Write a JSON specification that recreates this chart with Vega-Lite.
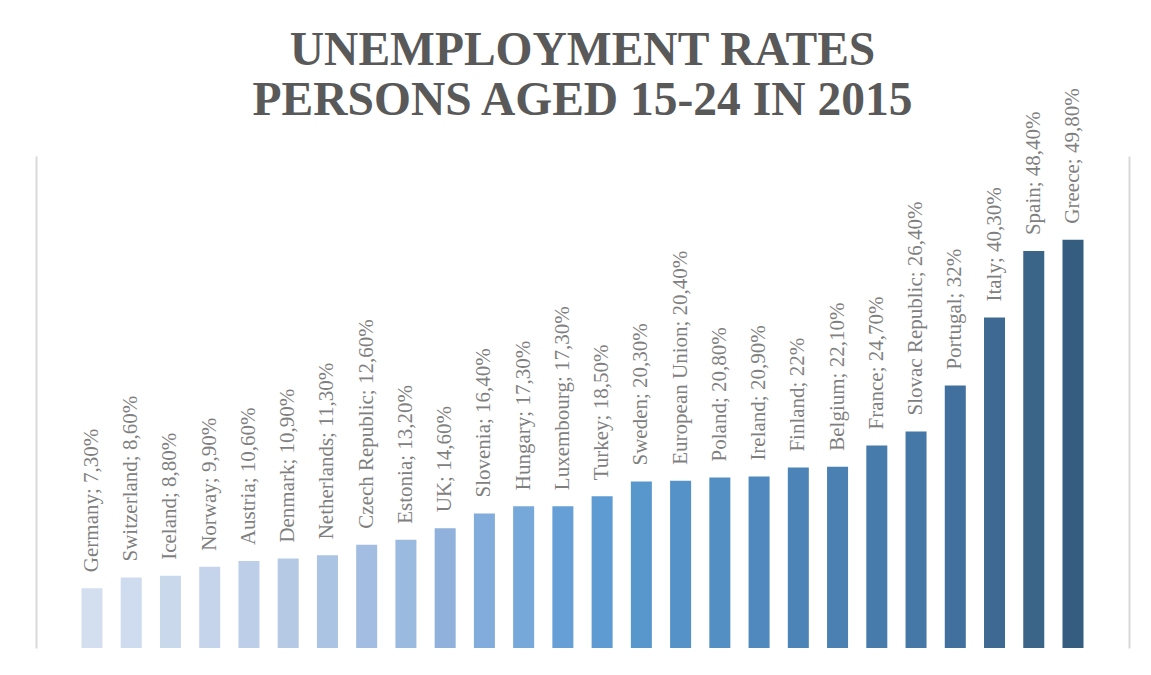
{
  "$schema": "https://vega.github.io/schema/vega-lite/v6.json",
  "autosize": {"type": "none"},
  "width": 1093,
  "height": 492,
  "padding": {"left": 36, "top": 156, "right": 22, "bottom": 27},
  "background": "white",
  "title": {
    "text": ["UNEMPLOYMENT RATES", "PERSONS AGED 15-24 IN 2015"],
    "font": "Liberation Serif",
    "fontSize": 47.5,
    "fontWeight": "bold",
    "color": "#595959",
    "lineHeight": 50,
    "anchor": "middle",
    "offset": -36
  },
  "data": {
    "values": [
      {"country": "Germany", "rate": 7.3, "label": "Germany; 7,30%"},
      {"country": "Switzerland", "rate": 8.6, "label": "Switzerland; 8,60%"},
      {"country": "Iceland", "rate": 8.8, "label": "Iceland; 8,80%"},
      {"country": "Norway", "rate": 9.9, "label": "Norway; 9,90%"},
      {"country": "Austria", "rate": 10.6, "label": "Austria; 10,60%"},
      {"country": "Denmark", "rate": 10.9, "label": "Denmark; 10,90%"},
      {"country": "Netherlands", "rate": 11.3, "label": "Netherlands; 11,30%"},
      {"country": "Czech Republic", "rate": 12.6, "label": "Czech Republic; 12,60%"},
      {"country": "Estonia", "rate": 13.2, "label": "Estonia; 13,20%"},
      {"country": "UK", "rate": 14.6, "label": "UK; 14,60%"},
      {"country": "Slovenia", "rate": 16.4, "label": "Slovenia; 16,40%"},
      {"country": "Hungary", "rate": 17.3, "label": "Hungary; 17,30%"},
      {"country": "Luxembourg", "rate": 17.3, "label": "Luxembourg; 17,30%"},
      {"country": "Turkey", "rate": 18.5, "label": "Turkey; 18,50%"},
      {"country": "Sweden", "rate": 20.3, "label": "Sweden; 20,30%"},
      {"country": "European Union", "rate": 20.4, "label": "European Union; 20,40%"},
      {"country": "Poland", "rate": 20.8, "label": "Poland; 20,80%"},
      {"country": "Ireland", "rate": 20.9, "label": "Ireland; 20,90%"},
      {"country": "Finland", "rate": 22, "label": "Finland; 22%"},
      {"country": "Belgium", "rate": 22.1, "label": "Belgium; 22,10%"},
      {"country": "France", "rate": 24.7, "label": "France; 24,70%"},
      {"country": "Slovac Republic", "rate": 26.4, "label": "Slovac Republic; 26,40%"},
      {"country": "Portugal", "rate": 32, "label": "Portugal; 32%"},
      {"country": "Italy", "rate": 40.3, "label": "Italy; 40,30%"},
      {"country": "Spain", "rate": 48.4, "label": "Spain; 48,40%"},
      {"country": "Greece", "rate": 49.8, "label": "Greece; 49,80%"}
    ]
  },
  "encoding": {
    "x": {
      "field": "country",
      "type": "nominal",
      "sort": null,
      "scale": {"paddingInner": 0.146, "paddingOuter": 1, "round": false},
      "axis": null
    },
    "y": {
      "field": "rate",
      "type": "quantitative",
      "scale": {"domain": [0, 60], "nice": false, "zero": true}
    }
  },
  "layer": [
    {
      "mark": {"type": "bar", "width": {"band": 0.627}},
      "encoding": {
        "y": {
          "field": "rate",
          "type": "quantitative",
          "scale": {"domain": [0, 60], "nice": false},
          "axis": {"orient": "left", "title": null, "labels": false, "ticks": false, "grid": false, "domainColor": "#d9d9d9", "domainWidth": 2}
        },
        "color": {
          "field": "country",
          "type": "nominal",
          "sort": null,
          "legend": null,
          "scale": {
            "domain": ["Germany", "Switzerland", "Iceland", "Norway", "Austria", "Denmark", "Netherlands", "Czech Republic", "Estonia", "UK", "Slovenia", "Hungary", "Luxembourg", "Turkey", "Sweden", "European Union", "Poland", "Ireland", "Finland", "Belgium", "France", "Slovac Republic", "Portugal", "Italy", "Spain", "Greece"],
            "range": ["#d3deef", "#cfdbee", "#cad8ec", "#c5d4ea", "#bdcfe8", "#b5c9e5", "#acc4e3", "#a3bde2", "#9abae0", "#8fb1dc", "#82acdb", "#76a8da", "#669fd6", "#5e9bd3", "#5897cc", "#5592c8", "#538fc3", "#5089bd", "#4d84b7", "#4a80b2", "#477bac", "#4577a7", "#42709e", "#3e6992", "#3a6589", "#355d80"]
          }
        }
      }
    },
    {
      "mark": {
        "type": "text",
        "angle": -90,
        "align": "left",
        "baseline": "middle",
        "dx": 16,
        "font": "Liberation Serif",
        "fontSize": 21,
        "color": "#7f7f7f"
      },
      "encoding": {
        "y": {
          "field": "rate",
          "type": "quantitative",
          "scale": {"domain": [0, 60], "nice": false},
          "axis": {"orient": "right", "title": null, "labels": false, "ticks": false, "grid": false, "domainColor": "#d9d9d9", "domainWidth": 2}
        },
        "text": {"field": "label", "type": "nominal"}
      }
    }
  ],
  "resolve": {"axis": {"y": "independent"}},
  "config": {
    "view": {"stroke": null}
  }
}
